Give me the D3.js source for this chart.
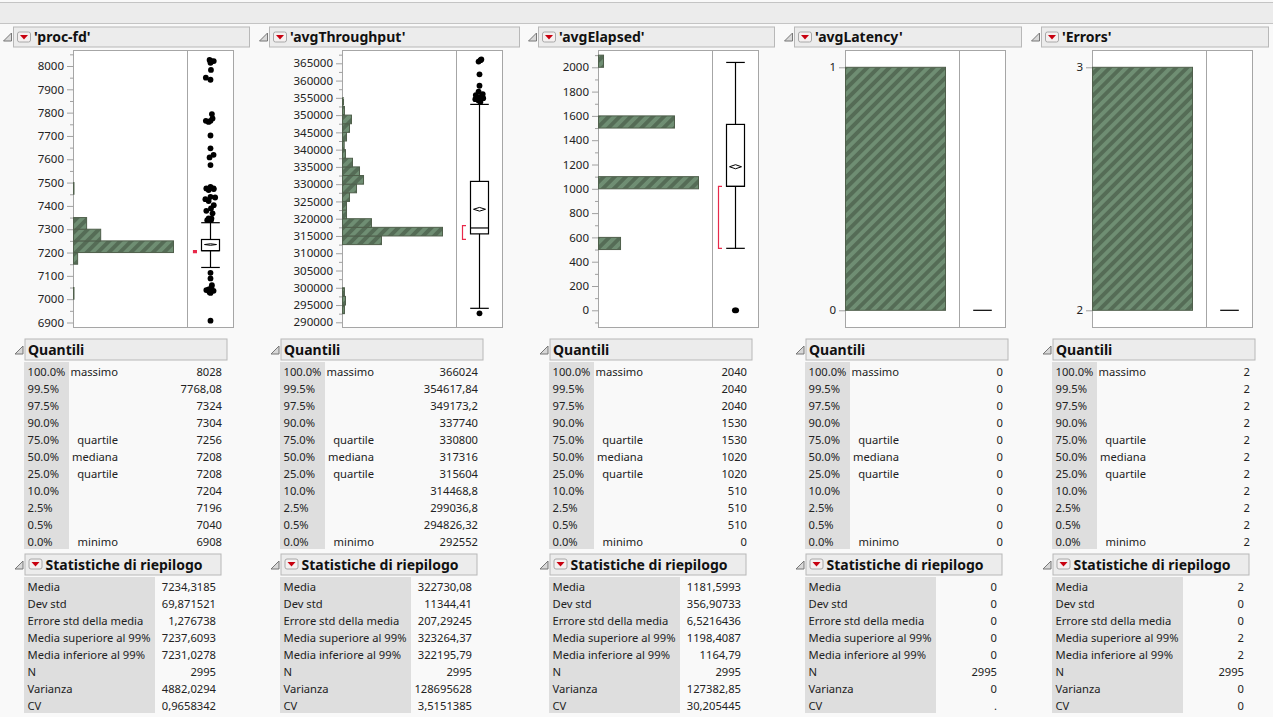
<!DOCTYPE html>
<html>
<head>
<meta charset="utf-8">
<script src="https://d3js.org/d3.v7.min.js"></script>
<style>
  body { margin: 0; background: #f9f9f9; }
  svg { display: block; }
  text { font-family: "Noto Sans", sans-serif; fill: #222; }
</style>
</head>
<body>
<div id="chartContainer"></div>
<script>
// Table row labels
const quantileLevels = ['100.0%', '99.5%', '97.5%', '90.0%', '75.0%', '50.0%', '25.0%', '10.0%', '2.5%', '0.5%', '0.0%'];
const quantileNames = ['massimo', '', '', '', 'quartile', 'mediana', 'quartile', '', '', '', 'minimo'];
const statNames = ['Media', 'Dev std', 'Errore std della media', 'Media superiore al 99%', 'Media inferiore al 99%', 'N', 'Varianza', 'CV'];

// Column titles
const columnNames = ["'proc-fd'", "'avgThroughput'", "'avgElapsed'", "'avgLatency'", "'Errors'"];

// Quantile tables
const procQuantiles = ['8028', '7768,08', '7324', '7304', '7256', '7208', '7208', '7204', '7196', '7040', '6908'];
const throughputQuantiles = ['366024', '354617,84', '349173,2', '337740', '330800', '317316', '315604', '314468,8', '299036,8', '294826,32', '292552'];
const elapsedQuantiles = ['2040', '2040', '2040', '1530', '1530', '1020', '1020', '510', '510', '510', '0'];
const latencyQuantiles = ['0', '0', '0', '0', '0', '0', '0', '0', '0', '0', '0'];
const errorsQuantiles = ['2', '2', '2', '2', '2', '2', '2', '2', '2', '2', '2'];

// Summary statistics tables
const procStats = ['7234,3185', '69,871521', '1,276738', '7237,6093', '7231,0278', '2995', '4882,0294', '0,9658342'];
const throughputStats = ['322730,08', '11344,41', '207,29245', '323264,37', '322195,79', '2995', '128695628', '3,5151385'];
const elapsedStats = ['1181,5993', '356,90733', '6,5216436', '1198,4087', '1164,79', '2995', '127382,85', '30,205445'];
const latencyStats = ['0', '0', '0', '0', '0', '2995', '0', '.'];
const errorsStats = ['2', '0', '0', '2', '2', '2995', '0', '0'];

// Histogram bins: lower edge and count
const procBinStart = [7000, 7150, 7200, 7250, 7300, 7450];
const procBinCount = [10, 85, 2060, 560, 270, 10];
const throughputBinStart = [292500, 295000, 297500, 312500, 315000, 317500, 320000, 322500, 325000, 327500, 330000, 332500, 335000, 337500, 340000, 342500, 345000, 347500, 350000, 352500];
const throughputBinCount = [21, 32, 21, 417, 1070, 310, 43, 43, 75, 150, 225, 182, 107, 32, 18, 43, 75, 96, 21, 11];
const elapsedBinStart = [500, 1000, 1500, 2000];
const elapsedBinCount = [325, 1475, 1121, 74];
const latencyBinStart = [0];
const latencyBinCount = [2995];
const errorsBinStart = [2];
const errorsBinCount = [2995];

// Box plots: lower whisker, q1, median, q3, upper whisker
const procBox = [7136, 7208, 7208, 7256, 7328];
const throughputBox = [294050, 315604, 317316, 330800, 353100];
const elapsedBox = [510, 1020, 1020, 1530, 2040];
const latencyBox = [0, 0, 0, 0, 0];
const errorsBox = [2, 2, 2, 2, 2];

// Mean and 99% limits for the diamonds
const procMean = [7234.3185, 7231.0278, 7237.6093];
const throughputMean = [322730.08, 322195.79, 323264.37];
const elapsedMean = [1181.5993, 1164.79, 1198.4087];

// Shortest half
const procShortest = [7200, 7208];
const throughputShortest = [314000, 318000];
const elapsedShortest = [510, 1020];

// Outliers and their jitter (-1 to 1)
const procOutliers = [8026, 8021, 8021, 8014, 7983, 7950, 7941, 7794, 7775, 7765, 7765, 7760, 7702, 7647, 7619, 7608, 7575, 7482, 7475, 7475, 7472, 7468, 7439, 7436, 7429, 7421, 7403, 7389, 7379, 7368, 7346, 7346, 7339, 7339, 7113, 7089, 7060, 7050, 7042, 7039, 7036, 7027, 7030, 6908];
const procJitter = [-0.1, 0.35, 0.1, 0, 0.05, -0.5, 0, 0.15, 0.22, 0, -0.5, -0.2, 0, 0, 0.33, -0.1, 0, 0, -0.45, 0.33, 0.35, -0.2, 0, 0.5, -0.55, -0.2, 0.35, 0.05, -0.45, 0.22, -0.2, 0.1, 0.05, -0.35, 0, 0, 0.15, 0.1, -0.2, -0.45, 0.33, 0, -0.1, 0];
const throughputOutliers = [366100, 365900, 365500, 361800, 358500, 356800, 356100, 355800, 355200, 354900, 354600, 353900, 355400, 354200, 292600];
const throughputJitter = [0.2, 0.1, -0.1, 0, 0, -0.1, 0.35, -0.4, -0.25, 0.4, -0.45, 0.1, 0.2, -0.1, 0];
const elapsedOutliers = [0, 0];
const elapsedJitter = [-0.07, 0.07];

// Axis ticks
const procTicks = [6900, 7000, 7100, 7200, 7300, 7400, 7500, 7600, 7700, 7800, 7900, 8000];
const procMinorTicks = [6950, 7050, 7150, 7250, 7350, 7450, 7550, 7650, 7750, 7850, 7950, 8050];
const throughputTicks = [290000, 295000, 300000, 305000, 310000, 315000, 320000, 325000, 330000, 335000, 340000, 345000, 350000, 355000, 360000, 365000];
const throughputMinorTicks = [292500, 297500, 302500, 307500, 312500, 317500, 322500, 327500, 332500, 337500, 342500, 347500, 352500, 357500, 362500, 367500];
const elapsedTicks = [0, 200, 400, 600, 800, 1000, 1200, 1400, 1600, 1800, 2000];
const elapsedMinorTicks = [-100, 100, 300, 500, 700, 900, 1100, 1300, 1500, 1700, 1900, 2100];
const latencyTicks = [0, 1];
const errorsTicks = [2, 3];

const width = 1273, height = 717;
const plotTop = 50.5, plotBottom = 327.5;
const histWidth = 114, boxPanelWidth = 46;
const barMax = 100;
const tableFont = '11.2px', titleFont = '14px';

const panels = [
  { name: columnNames[0], origin: 13.5, headerWidth: 236, plotLeft: 73.5, ticks: procTicks, minor: procMinorTicks, domain: [6900, 8000], range: [322.5, 66], binWidth: 50, binStart: procBinStart, binCount: procBinCount, box: procBox, mean: procMean, shortest: procShortest, outliers: procOutliers, jitter: procJitter, quantiles: procQuantiles, stats: procStats },
  { name: columnNames[1], origin: 269.5, headerWidth: 250, plotLeft: 342.5, ticks: throughputTicks, minor: throughputMinorTicks, domain: [290000, 365000], range: [322.3, 63.3], binWidth: 2500, binStart: throughputBinStart, binCount: throughputBinCount, box: throughputBox, mean: throughputMean, shortest: throughputShortest, outliers: throughputOutliers, jitter: throughputJitter, quantiles: throughputQuantiles, stats: throughputStats },
  { name: columnNames[2], origin: 538.5, headerWidth: 236, plotLeft: 598.5, ticks: elapsedTicks, minor: elapsedMinorTicks, domain: [0, 2000], range: [310.3, 67.3], binWidth: 100, binStart: elapsedBinStart, binCount: elapsedBinCount, box: elapsedBox, mean: elapsedMean, shortest: elapsedShortest, outliers: elapsedOutliers, jitter: elapsedJitter, quantiles: elapsedQuantiles, stats: elapsedStats },
  { name: columnNames[3], origin: 794.5, headerWidth: 227, plotLeft: 845.5, ticks: latencyTicks, minor: [], domain: [0, 1], range: [310.3, 67.3], binWidth: 1, binStart: latencyBinStart, binCount: latencyBinCount, box: latencyBox, mean: null, shortest: null, outliers: [], jitter: [], quantiles: latencyQuantiles, stats: latencyStats },
  { name: columnNames[4], origin: 1041.5, headerWidth: 227, plotLeft: 1092.5, ticks: errorsTicks, minor: [], domain: [2, 3], range: [310.3, 67.3], binWidth: 1, binStart: errorsBinStart, binCount: errorsBinCount, box: errorsBox, mean: null, shortest: null, outliers: [], jitter: [], quantiles: errorsQuantiles, stats: errorsStats }
];

// Create the SVG
const svg = d3.select('#chartContainer')
  .append('svg')
  .attr('width', width)
  .attr('height', height);

svg.append('rect').attr('width', width).attr('height', height).attr('fill', '#f9f9f9');

// Hatch used by the histogram bars
const hatch = svg.append('defs').append('pattern')
  .attr('id', 'hatch')
  .attr('patternUnits', 'userSpaceOnUse')
  .attr('width', 7.8)
  .attr('height', 7.8)
  .attr('patternTransform', 'rotate(45)');
hatch.append('rect').attr('width', 7.8).attr('height', 7.8).attr('fill', '#556c56');
hatch.append('rect').attr('width', 3.9).attr('height', 7.8).attr('fill', '#6f8e73');

// Toolbar strip at the top
svg.append('rect')
  .attr('x', -1).attr('y', 2.5).attr('width', width + 2).attr('height', 21)
  .attr('fill', '#ececec').attr('stroke', '#c4c4c4');

// Disclosure triangle next to each outline header
function disclosure(x, y) {
  svg.append('path')
    .attr('d', d3.line()([[x, y + 8], [x + 8, y], [x + 8, y + 8]]) + 'Z')
    .attr('fill', '#d8d8d8').attr('stroke', '#777').attr('stroke-width', 1);
}

// Small red popup button
function popup(x, y) {
  svg.append('rect')
    .attr('x', x).attr('y', y).attr('width', 13).attr('height', 10).attr('rx', 2)
    .attr('fill', '#f4f0f0').attr('stroke', '#a8a8a8');
  svg.append('path')
    .attr('d', d3.line()([[x + 2.5, y + 3], [x + 10.5, y + 3], [x + 6.5, y + 7.5]]) + 'Z')
    .attr('fill', '#c8000f');
}

function header(x, y, w, h, label, withPopup) {
  svg.append('rect')
    .attr('x', x).attr('y', y).attr('width', w).attr('height', h)
    .attr('fill', '#ececec').attr('stroke', '#b8b8b8').attr('stroke-width', 1);
  if (withPopup) popup(x + 4, y + 5);
  svg.append('text')
    .attr('x', x + (withPopup ? 20.5 : 3))
    .attr('y', y + h / 2 + 5)
    .attr('font-size', titleFont)
    .attr('font-weight', 700)
    .style('fill', '#111')
    .text(label);
}

panels.forEach(p => {
  const y = d3.scaleLinear().domain(p.domain).range(p.range);
  const x = d3.scaleLinear().domain([0, d3.max(p.binCount)]).range([0, barMax]);
  const boxLeft = p.plotLeft + histWidth;
  const boxCenter = boxLeft + boxPanelWidth / 2;
  const jitterX = d3.scaleLinear().domain([-1, 1]).range([boxCenter - 9.3, boxCenter + 9.3]);

  // Column header
  disclosure(p.origin - 10, 33);
  header(p.origin, 27, p.headerWidth, 20, p.name, true);

  // Plot frame
  svg.append('rect')
    .attr('x', p.plotLeft).attr('y', plotTop)
    .attr('width', histWidth + boxPanelWidth).attr('height', plotBottom - plotTop)
    .attr('fill', '#fff').attr('stroke', '#a6a6a6');
  svg.append('line')
    .attr('x1', boxLeft).attr('x2', boxLeft)
    .attr('y1', plotTop).attr('y2', plotBottom)
    .attr('stroke', '#a6a6a6');

  // Axes
  const axis = svg.append('g')
    .attr('transform', `translate(${p.plotLeft},0)`)
    .call(d3.axisLeft(y).tickValues(p.ticks).tickFormat(d3.format('d')).tickSize(6.5).tickPadding(3));
  axis.select('.domain').remove();
  axis.selectAll('line').attr('stroke', '#a0a0a0');
  axis.selectAll('text').attr('font-size', '11.5px').style('font-family', '"Noto Sans", sans-serif').style('fill', '#222');
  const minorAxis = svg.append('g')
    .attr('transform', `translate(${p.plotLeft},0)`)
    .call(d3.axisLeft(y).tickValues(p.minor).tickFormat('').tickSize(3.5));
  minorAxis.select('.domain').remove();
  minorAxis.selectAll('line').attr('stroke', '#a0a0a0');

  // Histogram bars
  svg.append('g').selectAll('rect')
    .data(p.binStart.map((d, i) => ({ start: d, count: p.binCount[i] })))
    .join('rect')
    .attr('x', p.plotLeft)
    .attr('y', d => y(d.start + p.binWidth))
    .attr('width', d => x(d.count))
    .attr('height', d => y(d.start) - y(d.start + p.binWidth))
    .attr('fill', 'url(#hatch)')
    .attr('stroke', '#4f5f4b')
    .attr('stroke-width', 1);

  // Outliers
  svg.append('g').selectAll('circle')
    .data(p.outliers.map((d, i) => ({ value: d, jitter: p.jitter[i] })))
    .join('circle')
    .attr('cx', d => jitterX(d.jitter))
    .attr('cy', d => y(d.value))
    .attr('r', 2.9)
    .attr('fill', '#000');

  // Box plot
  const [low, q1, med, q3, high] = p.box;
  const g = svg.append('g').attr('stroke', '#000').attr('stroke-width', 1.2).attr('fill', 'none');
  if (low !== high) {
    g.append('line').attr('x1', boxCenter).attr('x2', boxCenter).attr('y1', y(low)).attr('y2', y(high));
    g.append('line').attr('x1', boxCenter - 9.3).attr('x2', boxCenter + 9.3).attr('y1', y(high)).attr('y2', y(high));
    g.append('rect')
      .attr('x', boxCenter - 9).attr('width', 18)
      .attr('y', y(q3)).attr('height', y(q1) - y(q3))
      .attr('fill', '#fff');
    g.append('line').attr('x1', boxCenter - 9).attr('x2', boxCenter + 9).attr('y1', y(med)).attr('y2', y(med));
  }
  g.append('line').attr('x1', boxCenter - 9.3).attr('x2', boxCenter + 9.3).attr('y1', y(low)).attr('y2', y(low));

  // Mean diamond with its 99% limits
  if (p.mean) {
    const [m, lo, hi] = p.mean;
    g.append('path')
      .attr('d', d3.line()([[boxCenter - 6, y(m)], [boxCenter, y(hi)], [boxCenter + 6, y(m)], [boxCenter, y(lo)]]) + 'Z')
      .attr('fill', '#fff')
      .attr('stroke-width', 1);
  }

  // Shortest half bracket
  if (p.shortest) {
    const top = y(p.shortest[1]), bottom = y(p.shortest[0]);
    svg.append('path')
      .attr('d', d3.line()([[boxLeft + 9.5, top], [boxLeft + 6, top], [boxLeft + 6, bottom], [boxLeft + 9.5, bottom]]))
      .attr('fill', bottom - top < 3 ? '#e8294a' : 'none').attr('stroke', '#e8294a').attr('stroke-width', 1.2);
  }

  // Quantile table
  const qx = p.origin + 11.5;
  disclosure(qx - 10, 346);
  header(qx, 339, 202, 21, 'Quantili', false);
  svg.append('rect')
    .attr('x', qx - 1).attr('y', 362).attr('width', 45).attr('height', 187)
    .attr('fill', '#dedede');
  const rowY = d3.scaleBand().domain(d3.range(11)).range([363.2, 550.2]);
  const qRows = svg.append('g').attr('font-size', tableFont);
  quantileLevels.forEach((d, i) => {
    const ty = rowY(i) + rowY.bandwidth() / 2 + 4;
    qRows.append('text').attr('x', qx + 2.5).attr('y', ty).text(d);
    qRows.append('text').attr('x', qx + 93).attr('y', ty).attr('text-anchor', 'end').text(quantileNames[i]);
    qRows.append('text').attr('x', qx + 197).attr('y', ty).attr('text-anchor', 'end').text(p.quantiles[i]);
  });

  // Summary statistics table
  disclosure(qx - 10, 561);
  header(qx, 554, 196, 21, 'Statistiche di riepilogo', true);
  svg.append('rect')
    .attr('x', qx - 1).attr('y', 577).attr('width', 131).attr('height', 136)
    .attr('fill', '#dedede');
  const statY = d3.scaleBand().domain(d3.range(8)).range([578, 714]);
  const sRows = svg.append('g').attr('font-size', tableFont);
  statNames.forEach((d, i) => {
    const ty = statY(i) + statY.bandwidth() / 2 + 4;
    sRows.append('text').attr('x', qx + 2.5).attr('y', ty).text(d);
    sRows.append('text').attr('x', qx + 191).attr('y', ty).attr('text-anchor', 'end').text(p.stats[i]);
  });
});
</script>
</body>
</html>
